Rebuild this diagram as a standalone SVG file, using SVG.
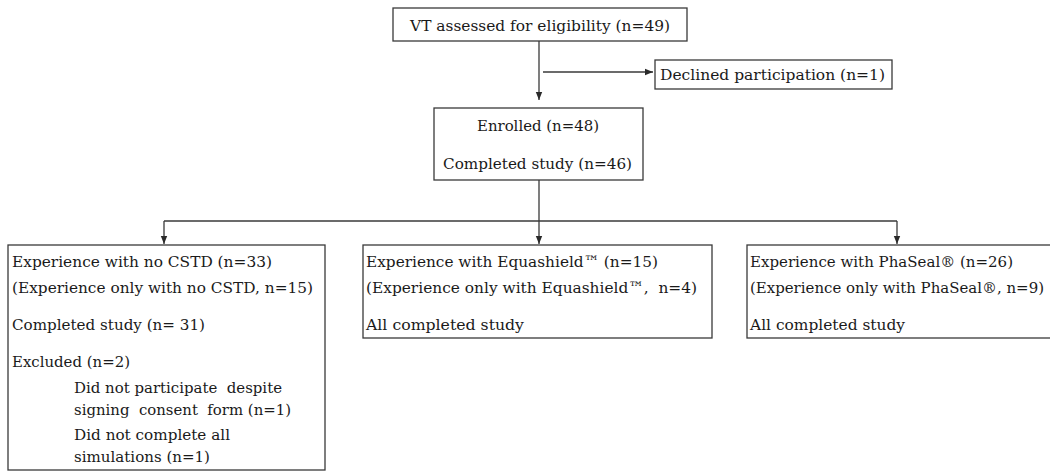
<svg xmlns="http://www.w3.org/2000/svg" width="1050" height="471" viewBox="0 0 1050 471">
<style>
.box{fill:#fff;stroke:#3a3a3a;stroke-width:1.3}
.t{font-size:15.5px;fill:#1a1a1a;white-space:pre}
.ln{fill:none;stroke:#3a3a3a;stroke-width:1.3}
</style>
<defs>
<marker id="ah" viewBox="0 0 10 10" refX="10" refY="5" markerWidth="8" markerHeight="8" markerUnits="userSpaceOnUse" orient="auto">
<path d="M0,1 L10,5 L0,9 z" fill="#2a2a2a"/>
</marker>
</defs>
<g id="connectors">
<path class="ln" d="M539,41 V100" marker-end="url(#ah)"/>
<path class="ln" d="M543,72 H653" marker-end="url(#ah)"/>
<path class="ln" d="M539,180 V221"/>
<path class="ln" d="M164,221 H897"/>
<path class="ln" d="M164,221 V244" marker-end="url(#ah)"/>
<path class="ln" d="M539,221 V244" marker-end="url(#ah)"/>
<path class="ln" d="M897,221 V244" marker-end="url(#ah)"/>
</g>
<g font-family="DejaVu Serif, Liberation Serif, serif" xml:space="preserve">
<g id="assessed">
<rect class="box" x="393" y="8" width="294" height="33"/>
<text class="t" x="410" y="31" textLength="260" lengthAdjust="spacingAndGlyphs">VT assessed for eligibility (n=49)</text>
</g>
<g id="declined">
<rect class="box" x="655" y="60" width="237" height="29"/>
<text class="t" x="660" y="80" textLength="225" lengthAdjust="spacingAndGlyphs">Declined participation (n=1)</text>
</g>
<g id="enrolled">
<rect class="box" x="434" y="108" width="209" height="72"/>
<text class="t" x="477" y="131" textLength="122" lengthAdjust="spacingAndGlyphs">Enrolled (n=48)</text>
<text class="t" x="443" y="169" textLength="189" lengthAdjust="spacingAndGlyphs">Completed study (n=46)</text>
</g>
<g id="no-cstd">
<rect class="box" x="8" y="245" width="317" height="225"/>
<text class="t" x="12" y="267" textLength="260" lengthAdjust="spacingAndGlyphs">Experience with no CSTD (n=33)</text>
<text class="t" x="12" y="293" textLength="301" lengthAdjust="spacingAndGlyphs">(Experience only with no CSTD, n=15)</text>
<text class="t" x="12" y="330" textLength="193" lengthAdjust="spacingAndGlyphs">Completed study (n= 31)</text>
<text class="t" x="12" y="367" textLength="118" lengthAdjust="spacingAndGlyphs">Excluded (n=2)</text>
<text class="t" x="74" y="393" textLength="208" lengthAdjust="spacingAndGlyphs">Did not participate  despite</text>
<text class="t" x="74" y="415" textLength="217" lengthAdjust="spacingAndGlyphs">signing  consent  form (n=1)</text>
<text class="t" x="74" y="440" textLength="156" lengthAdjust="spacingAndGlyphs">Did not complete all</text>
<text class="t" x="74" y="462" textLength="136" lengthAdjust="spacingAndGlyphs">simulations (n=1)</text>
</g>
<g id="equashield">
<rect class="box" x="363" y="245" width="349" height="93"/>
<text class="t" x="366" y="267" textLength="292" lengthAdjust="spacingAndGlyphs">Experience with Equashield™ (n=15)</text>
<text class="t" x="366" y="293" textLength="331" lengthAdjust="spacingAndGlyphs">(Experience only with Equashield™,  n=4)</text>
<text class="t" x="366" y="330" textLength="158" lengthAdjust="spacingAndGlyphs">All completed study</text>
</g>
<g id="phaseal">
<rect class="box" x="747" y="245" width="310" height="93"/>
<text class="t" x="750" y="267" textLength="263" lengthAdjust="spacingAndGlyphs">Experience with PhaSeal® (n=26)</text>
<text class="t" x="750" y="293" textLength="294" lengthAdjust="spacingAndGlyphs">(Experience only with PhaSeal®, n=9)</text>
<text class="t" x="750" y="330" textLength="155" lengthAdjust="spacingAndGlyphs">All completed study</text>
</g>
</g>
</svg>
